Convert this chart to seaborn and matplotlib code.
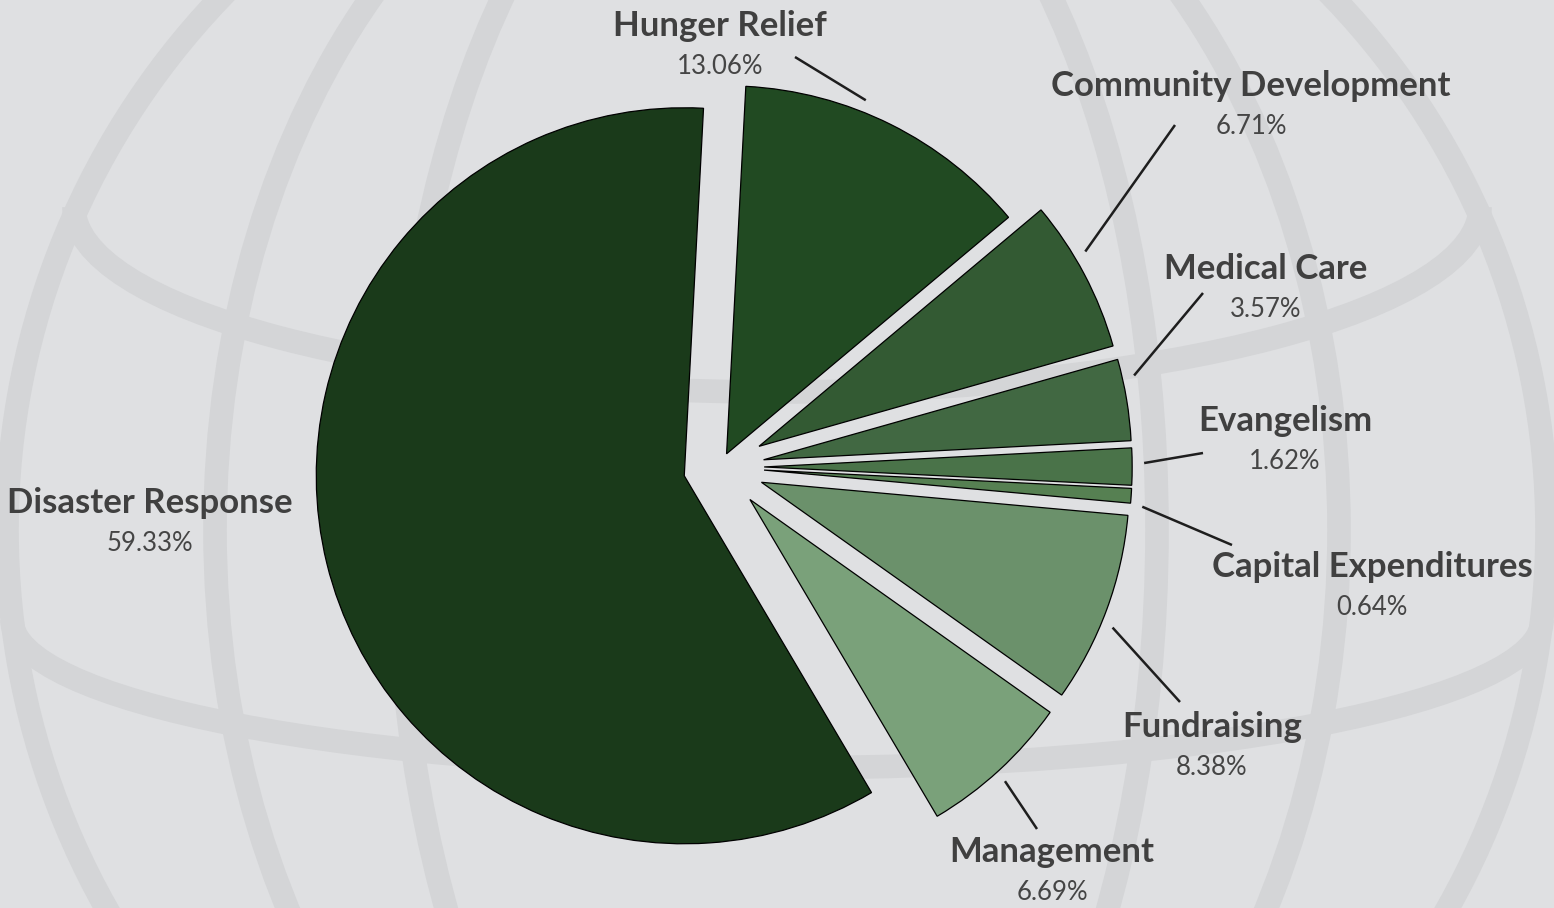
import numpy as np
import matplotlib
matplotlib.use("Agg")
import matplotlib.pyplot as plt
from matplotlib.patches import Ellipse, Arc
import seaborn as sns

# data (clockwise from the top)
categories = ["Hunger Relief", "Community Development", "Medical Care", "Evangelism",
              "Capital Expenditures", "Fundraising", "Management", "Disaster Response"]
shares = [13.06, 6.71, 3.57, 1.62, 0.64, 8.38, 6.69, 59.33]
pct_labels = [f"{v:.2f}%" for v in shares]

# layout, in pixels of the 1554x908 picture (y from the top)
W, H = 1554, 908
center_px = (720, 467)
radius = 368
explode = [0.04, 0.12, 0.12, 0.12, 0.12, 0.12, 0.12, 0.10]   # fraction of radius
label_px = [(720, 36), (1251, 96), (1266, 279), (1285, 431), (1372, 577),
            (1212, 737), (1052, 862), (150, 513)]
leader_end_px = [(795, 57), (1175, 125), (1203, 293), (1203, 453), (1232, 545),
                 (1180, 702), (1037, 829), None]
colors = ["#214a22", "#335a33", "#416842", "#4a7349", "#568052",
          "#6b916b", "#7aa17a", "#1a3a1a"]
bg = "#dfe0e2"
band = "#d4d5d7"

sns.set_style("white")
plt.rcParams['font.family'] = ['Lato', 'DejaVu Sans']

fig = plt.figure(figsize=(W / 100, H / 100), dpi=100)
fig.patch.set_facecolor(bg)
ax = fig.add_axes([0, 0, 1, 1])
ax.set_facecolor(bg)

# faint globe watermark behind the chart
gc = (777, H - 530)
ax.add_patch(Ellipse(gc, 2 * 770, 2 * 770, fill=False, lw=17, ec=band, zorder=0))
for a in (562, 380):
    ax.add_patch(Ellipse(gc, 2 * a, 2 * 770, fill=False, lw=17, ec=band, zorder=0))
ax.add_patch(Arc((777, H - 207), 2 * 703, 2 * 185, theta1=180, theta2=360, lw=17, ec=band, zorder=0))
ax.add_patch(Arc((777, H - 620), 2 * 765, 2 * 148, theta1=180, theta2=360, lw=17, ec=band, zorder=0))

cx, cy = center_px[0], H - center_px[1]
wedges, _ = ax.pie(shares, colors=colors, explode=[e * radius for e in explode],
                   startangle=87, counterclock=False, radius=radius, center=(cx, cy),
                   wedgeprops=dict(edgecolor="black", linewidth=0.9))

for w, name, pct, (lx, ly), end in zip(wedges, categories, pct_labels, label_px, leader_end_px):
    ax.text(lx, H - ly, name, ha="center", va="baseline", fontsize=25,
            fontweight="bold", color="#404040", zorder=5)
    ax.text(lx, H - ly - 38, pct, ha="center", va="baseline", fontsize=18.5,
            color="#454545", zorder=5)
    if end is not None:
        ex, ey = end[0], H - end[1]
        mid = (w.theta1 + w.theta2) / 2
        toward = np.degrees(np.arctan2(ey - w.center[1], ex - w.center[0]))
        ang = np.deg2rad(mid + 0.3 * (toward - mid))
        r0 = w.r + 12
        sx = w.center[0] + r0 * np.cos(ang)
        sy = w.center[1] + r0 * np.sin(ang)
        ax.plot([sx, ex], [sy, ey], color="#1e1e1e", lw=1.8,
                solid_capstyle="butt", zorder=4)

ax.set_xlim(0, W)
ax.set_ylim(0, H)
ax.set_aspect("equal")
ax.axis("off")

fig.savefig("out.png", dpi=100, facecolor=bg)
